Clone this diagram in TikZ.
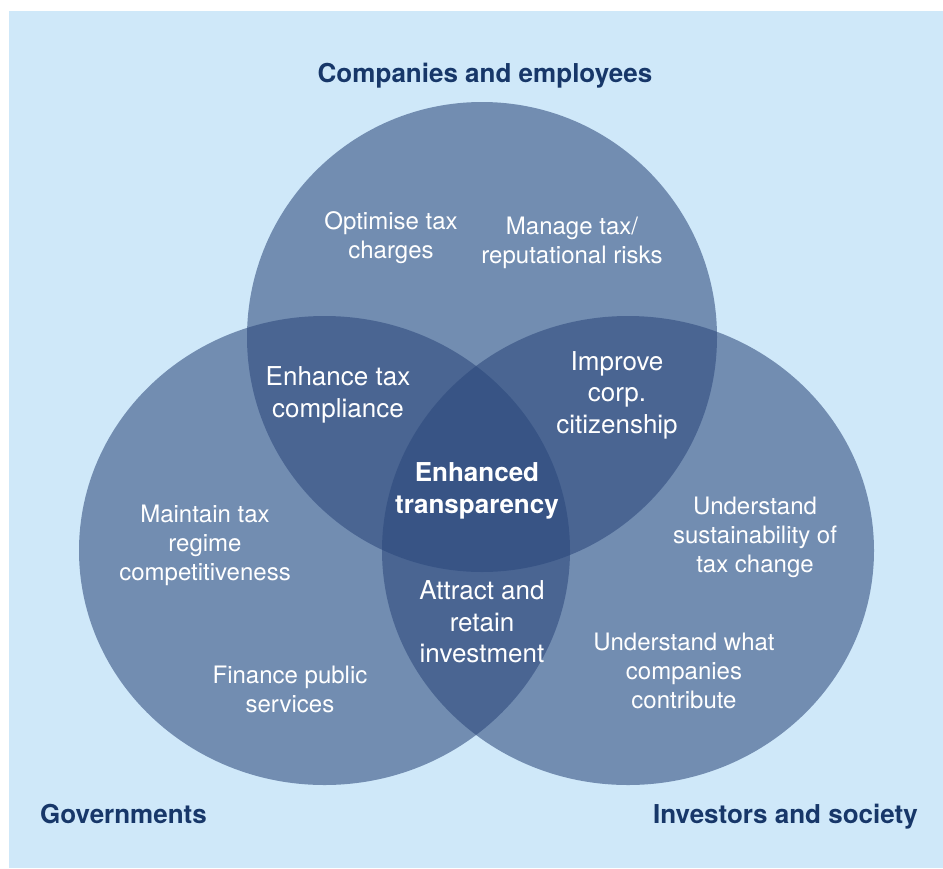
\documentclass[tikz,border=0pt]{standalone}
\usepackage{fontspec}
\setmainfont{TeX Gyre Heros}
\usepackage{xcolor}
\usetikzlibrary{shapes.geometric}
\usetikzlibrary{positioning}

\definecolor{skyback}{RGB}{207,232,249}
\definecolor{vennblue}{RGB}{44,72,124}
\definecolor{navy}{RGB}{23,55,105}

\tikzset{
  group/.style={ellipse, fill=vennblue, fill opacity=0.57},
  head/.style={font=\fontsize{26}{31}\selectfont\bfseries, text=navy},
  aim/.style={align=center, text=white, font=\fontsize{24}{29}\selectfont},
  overlap/.style={align=center, text=white, font=\fontsize{26}{31.5}\selectfont},
}

\begin{document}
\begin{tikzpicture}
[every node/.style={inner sep=0pt}]
\useasboundingbox (0pt, 0pt) rectangle (943pt, -868pt);
\fill [skyback] (9pt, -11pt) rectangle (943pt, -868pt);
% the three stakeholder groups
\node (comp) [group, minimum width=470pt, minimum height=470pt] at (482.0pt, -337.0pt) {};
\node (gov) [group, minimum width=491pt, minimum height=469pt] at (324.5pt, -550.5pt) {};
\node (inv) [group, minimum width=492pt, minimum height=469pt] at (628.0pt, -550.5pt) {};
% group titles
\node (compname) [head, anchor=base] at (485.0pt, -82.0pt) {Companies and employees};
\node (govname) [head, anchor=base west] at (40.0pt, -823.0pt) {Governments};
\node (invname) [head, anchor=base east] at (918.0pt, -823.0pt) {Investors and society};
% aims of each group
\node (optim) [aim] at (391.0pt, -238.0pt) {Optimise tax\\charges};
\node (risks) [aim] at (572.0pt, -243.0pt) {Manage tax/\\reputational risks};
\node (compet) [aim] at (205.0pt, -545.0pt) {Maintain tax\\regime\\competitiveness};
\node (public) [aim] at (290.0pt, -689.0pt) {Finance public\\services};
\node (sustain) [aim] at (755.0pt, -537.0pt) {Understand\\sustainability of\\tax change};
\node (contrib) [aim] at (684.0pt, -671.0pt) {Understand what\\companies\\contribute};
% shared aims in the overlaps
\node (complian) [overlap] at (338.0pt, -395.0pt) {Enhance tax\\compliance};
\node (citizen) [overlap] at (617.0pt, -395.0pt) {Improve\\corp.\\citizenship};
\node (attract) [overlap] at (482.0pt, -622.0pt) {Attract and\\retain\\investment};
\node (transp) [overlap, font=\fontsize{26}{31.5}\selectfont\bfseries] at (477.0pt, -491.0pt) {Enhanced\\transparency};
\end{tikzpicture}
\end{document}
